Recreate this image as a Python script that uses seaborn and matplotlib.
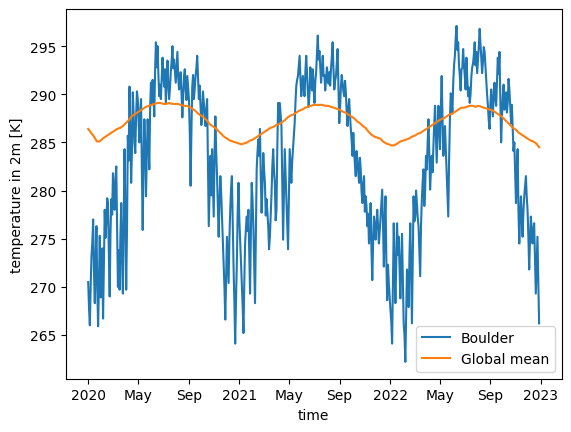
import numpy as np
import pandas as pd
import matplotlib
matplotlib.use("Agg")
import matplotlib.pyplot as plt
import matplotlib.dates as mdates
import seaborn as sns

# Boulder 2m temperature [K], read every 4 days starting 2020-01-01
boulder_vals = [
    270.5, 266.0, 273.2, 277.0, 268.3, 276.3, 265.9, 275.3, 271.1, 266.7,
    278.0, 276.9, 278.7, 269.0, 279.1, 281.8, 278.0, 282.5, 270.0, 269.7,
    278.7, 269.3, 284.3, 269.7, 285.7, 290.8, 280.8, 290.2, 285.0, 287.7,
    289.5, 285.0, 289.5, 275.9, 287.4, 279.4, 287.4, 282.2, 291.2, 291.5,
    287.7, 295.4, 295.0, 289.8, 289.5, 293.8, 290.8, 289.1, 293.5, 289.5,
    292.3, 295.0, 293.6, 291.2, 294.4, 290.5, 292.3, 287.6, 291.9, 290.5,
    291.9, 289.5, 280.5, 290.8, 289.5, 291.9, 294.0, 289.5, 288.8, 287.7,
    289.1, 286.7, 289.5, 276.3, 283.6, 284.3, 277.3, 287.7, 281.5, 275.2,
    281.5, 277.3, 272.5, 266.6, 275.2, 270.4, 278.0, 281.5, 272.1, 264.1,
    272.5, 280.8, 274.9, 270.4, 265.2, 274.5, 277.3, 278.0, 269.3, 280.8,
    276.3, 268.3, 282.2, 285.3, 286.4, 277.7, 283.9, 280.8, 279.1, 276.3,
    275.2, 279.7, 284.3, 280.8, 278.0, 289.1, 289.1, 286.7, 274.9, 284.3,
    279.4, 273.9, 284.3, 280.8, 284.3, 287.0, 290.9, 291.9, 294.0, 289.8,
    291.9, 289.8, 294.0, 290.2, 290.2, 291.2, 292.6, 289.1, 292.3, 296.1,
    294.5, 291.2, 294.0, 292.0, 291.5, 292.0, 292.3, 292.6, 295.4, 290.5,
    291.9, 294.7, 287.0, 290.8, 291.2, 289.8, 290.2, 286.7, 289.5, 286.4,
    283.6, 284.3, 281.5, 283.2, 280.8, 282.2, 278.7, 281.5, 279.4, 276.3,
    274.5, 278.7, 270.7, 277.3, 274.9, 278.0, 274.5, 277.3, 280.1, 272.1,
    279.4, 268.6, 270.4, 267.6, 264.1, 276.6, 268.3, 276.6, 275.2, 268.8,
    275.5, 266.2, 262.2, 271.8, 267.9, 276.6, 266.2, 279.4, 277.3, 278.7,
    276.3, 271.1, 279.1, 282.2, 280.1, 282.2, 287.4, 280.1, 283.6, 284.6,
    288.8, 282.9, 288.8, 284.3, 291.9, 283.6, 286.7, 282.2, 277.3, 287.4,
    289.5, 291.2, 294.0, 297.1, 295.4, 291.9, 292.6, 294.7, 291.9, 293.8,
    289.8, 289.1, 291.9, 293.2, 295.4, 294.4, 293.6, 296.8, 293.8, 293.4,
    294.4, 291.6, 288.8, 286.4, 290.5, 287.7, 291.2, 288.8, 293.8, 294.4,
    285.0, 289.8, 288.4, 290.2, 289.1, 290.5, 287.0, 286.4, 285.0, 278.7,
    284.3, 274.5, 279.4, 275.2, 279.4, 281.5, 278.0, 271.8, 277.3, 274.5,
    276.6, 269.3, 275.2, 266.2,
]

# Boulder 2m temperature [K], the days in between (every 4 days from 2020-01-03)
boulder_mid_vals = [
    267.8, 270.1, 274.6, 271.5, 272.9, 269.8, 270.2, 268.9, 274.0, 272.5,
    275.1, 279.2, 273.4, 275.6, 277.5, 279.0, 281.2, 276.4, 273.8, 275.3,
    272.6, 276.8, 277.9, 276.0, 283.1, 286.4, 284.2, 288.0, 283.9, 290.3,
    287.1, 288.2, 282.0, 283.1, 284.6, 283.8, 285.2, 288.6, 289.0, 290.1,
    292.4, 292.8, 292.0, 291.0, 291.7, 292.1, 292.6, 291.2, 291.0, 290.6,
    293.4, 292.7, 292.4, 292.9, 291.8, 291.0, 290.1, 289.8, 292.6, 289.4,
    290.7, 286.0, 286.2, 292.0, 290.6, 292.7, 291.6, 290.9, 286.8, 290.3,
    287.9, 288.4, 283.0, 280.2, 279.5, 281.0, 283.9, 284.0, 278.2, 279.0,
    279.8, 275.0, 269.9, 271.0, 272.9, 275.0, 280.2, 276.8, 268.5, 268.7,
    277.8, 277.0, 272.6, 268.1, 270.3, 276.1, 275.8, 273.4, 275.6, 279.0,
    272.5, 275.4, 284.0, 283.6, 281.2, 280.4, 282.1, 277.4, 277.6, 273.9,
    277.5, 282.6, 282.0, 276.9, 284.5, 287.0, 287.9, 281.0, 279.8, 281.7,
    276.2, 279.4, 282.5, 283.0, 285.6, 289.2, 291.5, 292.9, 291.7, 291.0,
    290.5, 292.4, 292.1, 288.7, 292.8, 290.4, 290.6, 291.3, 294.2, 293.6,
    292.9, 292.5, 291.9, 290.4, 292.8, 291.1, 290.9, 293.9, 292.6, 291.4,
    293.2, 290.8, 288.6, 292.0, 290.3, 291.4, 288.2, 288.5, 287.8, 285.2,
    286.0, 282.6, 284.1, 281.9, 283.4, 279.9, 280.6, 277.8, 278.4, 277.6,
    276.0, 273.9, 274.6, 276.0, 276.7, 276.2, 275.8, 279.0, 276.4, 276.8,
    273.0, 272.3, 269.0, 266.4, 270.8, 272.0, 272.4, 273.3, 271.9, 272.6,
    270.6, 265.0, 266.8, 270.0, 273.2, 271.4, 273.0, 276.8, 280.0, 277.2,
    273.6, 276.4, 280.9, 278.4, 283.6, 284.8, 284.0, 282.1, 281.9, 286.9,
    286.0, 285.9, 287.0, 288.6, 287.9, 285.0, 284.4, 280.0, 283.2, 290.1,
    288.0, 293.0, 295.8, 294.6, 293.0, 290.4, 292.7, 293.1, 290.5, 291.6,
    290.7, 290.0, 292.8, 294.1, 293.0, 292.2, 295.0, 295.3, 292.2, 294.9,
    292.9, 290.0, 287.3, 289.0, 289.1, 289.9, 289.6, 291.3, 292.1, 289.6,
    287.6, 291.0, 289.0, 288.1, 291.6, 288.9, 288.9, 284.1, 282.0, 282.1,
    277.9, 277.4, 277.1, 277.8, 280.4, 279.4, 275.2, 275.0, 276.0, 275.8,
    272.8, 272.2, 270.5,
]

# Global mean 2m temperature [K], weekly from 2020-01-01
global_vals = [
    286.4, 286.0, 285.6, 285.1, 285.1, 285.4, 285.6, 285.8, 286.0, 286.2,
    286.4, 286.5, 286.7, 287.0, 287.3, 287.7, 287.9, 288.1, 288.3, 288.5,
    288.7, 288.8, 288.9, 289.0, 289.1, 289.1, 289.0, 289.0, 289.1, 289.0,
    289.0, 289.0, 288.9, 288.8, 288.8, 288.7, 288.5, 288.3, 288.0, 287.8,
    287.6, 287.3, 286.9, 286.7, 286.5, 286.2, 285.9, 285.6, 285.4, 285.2,
    285.1, 285.0, 284.9, 284.8, 284.9, 285.0, 285.2, 285.3, 285.5, 285.7,
    285.9, 286.1, 286.3, 286.5, 286.6, 286.8, 286.9, 287.1, 287.3, 287.6,
    287.8, 287.9, 288.1, 288.3, 288.4, 288.6, 288.7, 288.8, 288.9, 288.9,
    288.9, 288.9, 288.8, 288.8, 288.7, 288.6, 288.5, 288.4, 288.2, 288.1,
    287.9, 287.7, 287.5, 287.2, 287.0, 286.7, 286.5, 286.1, 285.8, 285.6,
    285.5, 285.4, 285.1, 284.9, 284.8, 284.7, 284.7, 284.9, 285.1, 285.2,
    285.3, 285.4, 285.6, 285.7, 285.9, 286.0, 286.2, 286.4, 286.6, 286.8,
    287.0, 287.2, 287.4, 287.5, 287.7, 287.9, 288.0, 288.2, 288.4, 288.6,
    288.6, 288.7, 288.8, 288.8, 288.7, 288.8, 288.7, 288.6, 288.5, 288.4,
    288.3, 288.1, 287.9, 287.7, 287.4, 287.1, 286.8, 286.5, 286.3, 286.0,
    285.8, 285.6, 285.4, 285.2, 285.1, 284.9, 284.5,
]

boulder = pd.concat([
    pd.DataFrame({
        "time": pd.date_range("2020-01-01", periods=len(boulder_vals), freq="4D"),
        "temp": boulder_vals,
    }),
    pd.DataFrame({
        "time": pd.date_range("2020-01-03", periods=len(boulder_mid_vals), freq="4D"),
        "temp": boulder_mid_vals,
    }),
]).sort_values("time").reset_index(drop=True)

glob = pd.DataFrame({
    "time": pd.date_range("2020-01-01", periods=len(global_vals), freq="7D"),
    "temp": global_vals,
})

fig, ax = plt.subplots(figsize=(6.4, 4.8), dpi=100)
sns.lineplot(data=boulder, x="time", y="temp", ax=ax, color="C0", label="Boulder")
sns.lineplot(data=glob, x="time", y="temp", ax=ax, color="C1", label="Global mean")

locator = mdates.MonthLocator(bymonth=[1, 5, 9])
ax.xaxis.set_major_locator(locator)
ax.xaxis.set_major_formatter(mdates.ConciseDateFormatter(locator))
ax.set_xlabel("time")
ax.set_ylabel("temperature in 2m [K]")
ax.legend(loc="lower right")

fig.savefig("out.png", dpi=100, bbox_inches="tight")
